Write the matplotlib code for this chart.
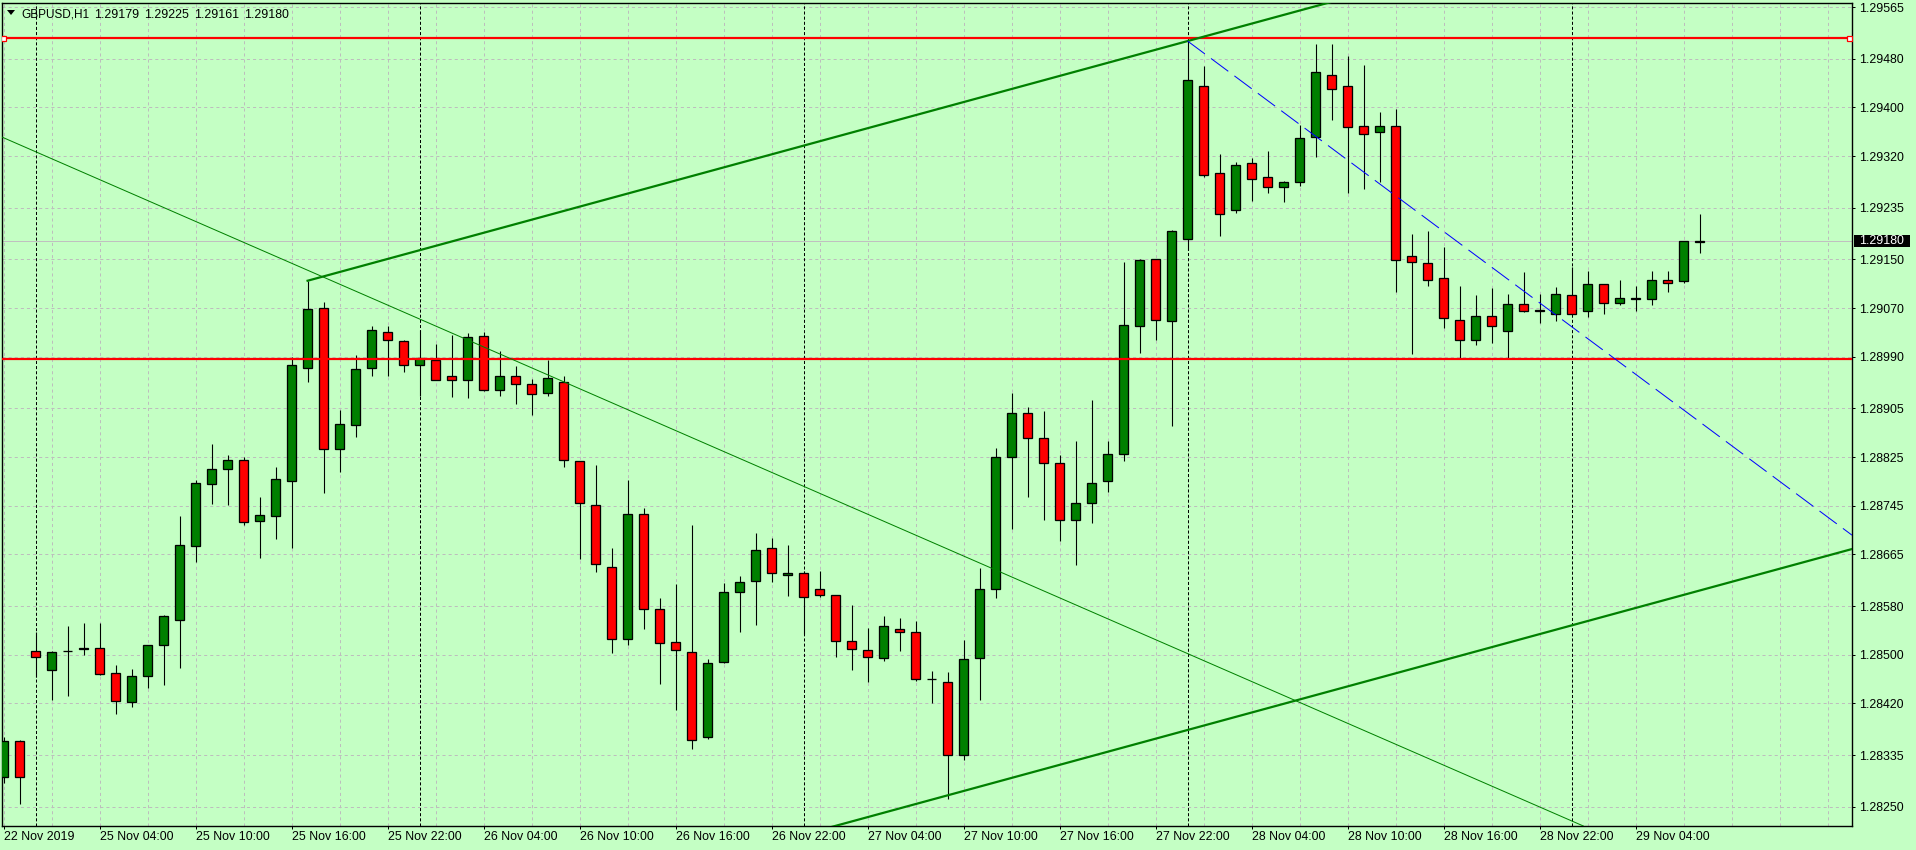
import matplotlib
matplotlib.use("Agg")
import matplotlib.pyplot as plt
import matplotlib.transforms as mtransforms
from matplotlib.patches import Rectangle, Polygon

plt.rcParams['lines.scale_dashes'] = False
plt.rcParams['font.family'] = ['Liberation Sans', 'DejaVu Sans']

# ---- data (GBPUSD H1, 22 Nov 22:00 .. 29 Nov 08:00) ----
symbol = "GBPUSD,H1"
last_quote = [1.29179, 1.29225, 1.29161, 1.29180]
bid = 1.29180

opens = [1.28299, 1.28358, 1.28506, 1.28475, 1.28506, 1.28510, 1.28511, 1.28470, 1.28422, 1.28465,
         1.28516, 1.28557, 1.28679, 1.28781, 1.28805, 1.28820, 1.28720, 1.28728, 1.28786, 1.28971,
         1.29070, 1.28838, 1.28878, 1.28971, 1.29031, 1.29016, 1.28976, 1.28985, 1.28958, 1.28952,
         1.29024, 1.28935, 1.28958, 1.28945, 1.28930, 1.28949, 1.28819, 1.28746, 1.28644, 1.28526,
         1.28732, 1.28575, 1.28521, 1.28505, 1.28365, 1.28488, 1.28603, 1.28621, 1.28676, 1.28631,
         1.28635, 1.28608, 1.28598, 1.28523, 1.28508, 1.28495, 1.28543, 1.28537, 1.28461, 1.28456,
         1.28336, 1.28494, 1.28609, 1.28825, 1.28897, 1.28857, 1.28815, 1.28722, 1.28750, 1.28785,
         1.28830, 1.29040, 1.29150, 1.29048, 1.29183, 1.29435, 1.29292, 1.29232, 1.29308, 1.29285,
         1.29269, 1.29277, 1.29351, 1.29453, 1.29435, 1.29369, 1.29359, 1.29370, 1.29155, 1.29144,
         1.29119, 1.29050, 1.29017, 1.29057, 1.29033, 1.29076, 1.29066, 1.29060, 1.29091, 1.29065,
         1.29109, 1.29079, 1.29085, 1.29085, 1.29117, 1.29114, 1.29179]
highs = [1.28365, 1.28360, 1.28537, 1.28507, 1.28547, 1.28552, 1.28552, 1.28483, 1.28477, 1.28516,
         1.28565, 1.28728, 1.28787, 1.28847, 1.28828, 1.28826, 1.28759, 1.28809, 1.28990, 1.29115,
         1.29080, 1.28902, 1.28993, 1.29041, 1.29041, 1.29018, 1.29034, 1.29011, 1.29026, 1.29029,
         1.29031, 1.28999, 1.28975, 1.28953, 1.28985, 1.28958, 1.28819, 1.28812, 1.28676, 1.28787,
         1.28741, 1.28593, 1.28616, 1.28713, 1.28493, 1.28618, 1.28630, 1.28700, 1.28692, 1.28680,
         1.28637, 1.28638, 1.28598, 1.28582, 1.28544, 1.28564, 1.28560, 1.28556, 1.28473, 1.28472,
         1.28524, 1.28642, 1.28840, 1.28930, 1.28907, 1.28901, 1.28828, 1.28852, 1.28919, 1.28852,
         1.29146, 1.29151, 1.29151, 1.29199, 1.29509, 1.29468, 1.29324, 1.29311, 1.29316, 1.29329,
         1.29279, 1.29371, 1.29504, 1.29504, 1.29484, 1.29469, 1.29393, 1.29398, 1.29192, 1.29196,
         1.29170, 1.29107, 1.29091, 1.29103, 1.29093, 1.29129, 1.29093, 1.29104, 1.29138, 1.29131,
         1.29110, 1.29117, 1.29107, 1.29131, 1.29131, 1.29180, 1.29225]
lows = [1.28289, 1.28255, 1.28464, 1.28426, 1.28432, 1.28500, 1.28467, 1.28403, 1.28414, 1.28445,
        1.28450, 1.28478, 1.28653, 1.28748, 1.28746, 1.28713, 1.28659, 1.28690, 1.28676, 1.28949,
        1.28766, 1.28800, 1.28858, 1.28958, 1.28958, 1.28965, 1.28925, 1.28951, 1.28924, 1.28922,
        1.28933, 1.28925, 1.28912, 1.28894, 1.28925, 1.28809, 1.28658, 1.28636, 1.28503, 1.28516,
        1.28542, 1.28452, 1.28409, 1.28345, 1.28362, 1.28486, 1.28538, 1.28549, 1.28620, 1.28597,
        1.28534, 1.28595, 1.28496, 1.28475, 1.28455, 1.28490, 1.28507, 1.28457, 1.28420, 1.28263,
        1.28327, 1.28425, 1.28594, 1.28707, 1.28760, 1.28722, 1.28687, 1.28647, 1.28717, 1.28767,
        1.28819, 1.28996, 1.29018, 1.28876, 1.29165, 1.29286, 1.29189, 1.29226, 1.29246, 1.29260,
        1.29244, 1.29270, 1.29318, 1.29379, 1.29260, 1.29265, 1.29278, 1.29096, 1.28995, 1.29107,
        1.29038, 1.28986, 1.29010, 1.29013, 1.28987, 1.29063, 1.29046, 1.29048, 1.29060, 1.29055,
        1.29061, 1.29075, 1.29066, 1.29075, 1.29096, 1.29112, 1.29161]
closes = [1.28358, 1.28299, 1.28496, 1.28505, 1.28507, 1.28511, 1.28468, 1.28424, 1.28465, 1.28516,
          1.28564, 1.28680, 1.28782, 1.28805, 1.28820, 1.28718, 1.28730, 1.28789, 1.28976, 1.29069,
          1.28838, 1.28879, 1.28970, 1.29034, 1.29018, 1.28976, 1.28988, 1.28952, 1.28952, 1.29022,
          1.28935, 1.28958, 1.28945, 1.28929, 1.28955, 1.28820, 1.28750, 1.28649, 1.28526, 1.28732,
          1.28575, 1.28519, 1.28508, 1.28360, 1.28487, 1.28603, 1.28620, 1.28672, 1.28635, 1.28635,
          1.28595, 1.28598, 1.28523, 1.28510, 1.28496, 1.28547, 1.28537, 1.28461, 1.28460, 1.28335,
          1.28493, 1.28609, 1.28826, 1.28897, 1.28856, 1.28815, 1.28722, 1.28749, 1.28783, 1.28830,
          1.29043, 1.29149, 1.29050, 1.29196, 1.29445, 1.29288, 1.29224, 1.29306, 1.29283, 1.29269,
          1.29278, 1.29349, 1.29458, 1.29431, 1.29367, 1.29356, 1.29370, 1.29149, 1.29145, 1.29116,
          1.29053, 1.29017, 1.29057, 1.29040, 1.29076, 1.29066, 1.29067, 1.29094, 1.29061, 1.29109,
          1.29079, 1.29086, 1.29086, 1.29117, 1.29112, 1.29180, 1.29180]

xtick_bars = list(range(0, 103, 6))
xtick_labels = ["22 Nov 2019", "25 Nov 04:00", "25 Nov 10:00", "25 Nov 16:00", "25 Nov 22:00",
                "26 Nov 04:00", "26 Nov 10:00", "26 Nov 16:00", "26 Nov 22:00", "27 Nov 04:00",
                "27 Nov 10:00", "27 Nov 16:00", "27 Nov 22:00", "28 Nov 04:00", "28 Nov 10:00",
                "28 Nov 16:00", "28 Nov 22:00", "29 Nov 04:00"]
ytick_values = [1.29565, 1.29480, 1.29400, 1.29320, 1.29235, 1.29150, 1.29070, 1.28990, 1.28905,
                1.28825, 1.28745, 1.28665, 1.28580, 1.28500, 1.28420, 1.28335, 1.28250]
day_start_bars = [2, 26, 50, 74, 98]

# chart objects
hline_top = 1.29514
hline_bottom = 1.28986
channel_a = (19, 1.29115)
channel_b = (74, 1.29509)
channel_c = (59, 1.28269)
trend_a = (0, 1.29350)
trend_b = (98, 1.28227)
blue_a = (74, 1.29509)
blue_b = (115, 1.28707)

# ---- figure ----
W, H = 1916, 850
bg = '#c4ffc4'
fig = plt.figure(figsize=(W / 100, H / 100), dpi=100, facecolor=bg)
ax = fig.add_axes([2 / W, 24 / H, 1850 / W, 823.5 / H], facecolor=bg)
xmin, xmax = -0.1, 115.525
ax.set_xlim(xmin, xmax)
ax.set_ylim(1.282186, 1.295724)

px = 0.72  # one pixel in points

# grid
for yv in ytick_values:
    ax.axhline(yv, color='#bdbdbd', lw=px, ls=(0, (2.2, 2.2)), zorder=1)
for xb in range(0, 116, 3):
    ax.axvline(xb, color='#bdbdbd', lw=px, ls=(0, (2.2, 2.2)), zorder=1)
for xb in day_start_bars:
    ax.axvline(xb, color='black', lw=px, ls=(0, (2.2, 1.5)), zorder=1.5)

# bid line
ax.axhline(bid, color='#c0c0c0', lw=px, zorder=1.6)

# candles
bw = 0.6
for i in range(len(opens)):
    o, h, l, c = opens[i], highs[i], lows[i], closes[i]
    ax.vlines(i, l, h, color='black', lw=px * 1.1, zorder=3)
    col = '#008000' if c >= o else '#ff0000'
    ax.add_patch(Rectangle((i - bw / 2, min(o, c)), bw, abs(c - o),
                           facecolor=col, edgecolor='black', lw=px * 1.3, zorder=4))

# horizontal lines
ax.axhline(hline_top, color='#ff0000', lw=1.6, zorder=6)
ax.plot([xmin + 0.09, xmax - 0.17], [hline_top, hline_top], ls='none', marker='s',
        ms=3.6, mfc='white', mec='#ff0000', mew=0.9, zorder=7)
ax.axhline(hline_bottom, color='#ff0000', lw=1.6, zorder=6)

# equidistant channel
slope = (channel_b[1] - channel_a[1]) / (channel_b[0] - channel_a[0])
ax.plot([channel_a[0], xmax], [channel_a[1], channel_a[1] + slope * (xmax - channel_a[0])],
        color='#008000', lw=1.6, zorder=6)
ax.plot([channel_a[0], xmax], [channel_c[1] + slope * (channel_a[0] - channel_c[0]),
                               channel_c[1] + slope * (xmax - channel_c[0])],
        color='#008000', lw=1.6, zorder=6)

# thin trendline
ax.axline(trend_a, trend_b, color='#008000', lw=px, zorder=6)

# blue dashed trendline
bslope = (blue_b[1] - blue_a[1]) / (blue_b[0] - blue_a[0])
ax.plot([blue_a[0], xmax], [blue_a[1], blue_a[1] + bslope * (xmax - blue_a[0])],
        color='#0000ff', lw=px, ls=(0, (15.5, 5.5)), zorder=6)

# axes frame and ticks
for sp in ax.spines.values():
    sp.set_color('black')
    sp.set_linewidth(1.0)
ax.yaxis.tick_right()
ax.set_yticks(ytick_values, [f"{v:.5f}" for v in ytick_values])
ax.set_xticks(xtick_bars, xtick_labels)
for lab in ax.get_xticklabels():
    lab.set_horizontalalignment('left')
ax.tick_params(axis='both', colors='black', labelsize=8.9, length=2.4, width=px)
ax.tick_params(axis='x', pad=1.2)
ax.tick_params(axis='y', pad=2.6)

# bid price box on the price scale
yd = ax.transData.transform((0, bid))[1]
fig.add_artist(Rectangle((1854, yd - 6.2), 56, 12.4, facecolor='black', edgecolor='none',
                         transform=mtransforms.IdentityTransform()))
fig.text(1859 / W, yd / H, f"{bid:.5f}", color='white', fontsize=8.9, va='center', ha='left')

# header
fig.add_artist(Polygon([[7, H - 10], [15, H - 10], [11, H - 15]], closed=True, facecolor='black',
                       edgecolor='none', transform=mtransforms.IdentityTransform()))
fig.text(21.7 / W, 1 - 17.5 / H, symbol, fontsize=8.5, va='baseline', ha='left')
for k, v in enumerate(last_quote):
    fig.text((94 + 50 * k) / W, 1 - 17.5 / H, f"{v:.5f}", fontsize=8.9, va='baseline', ha='left')

fig.savefig('out.png', dpi=100, facecolor=bg)
